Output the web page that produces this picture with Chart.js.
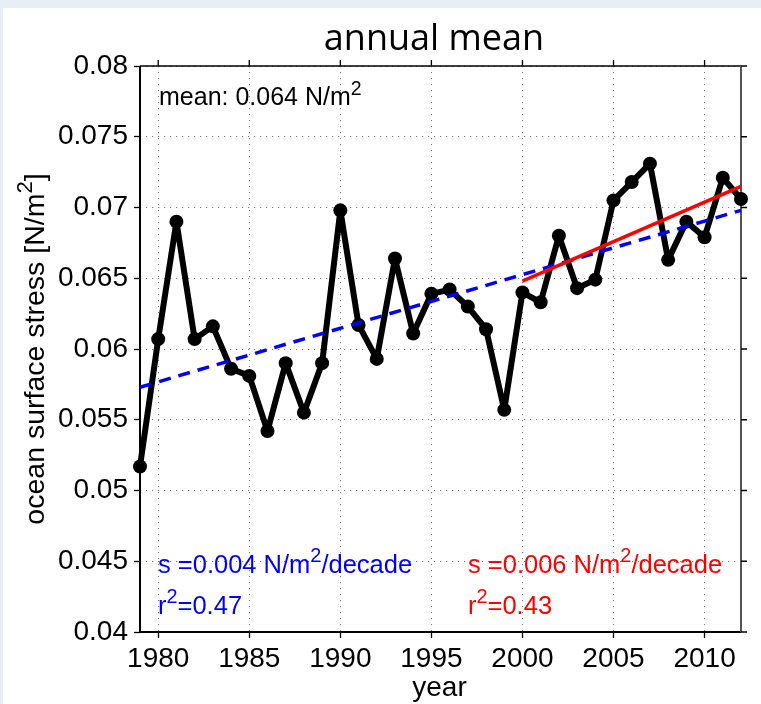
<!DOCTYPE html>
<html>
<head>
<meta charset="utf-8">
<script src="https://cdn.jsdelivr.net/npm/chart.js@4/dist/chart.umd.min.js"></script>
<style>
  html, body { margin: 0; padding: 0; background: #e8eef6; }
  canvas { display: block; }
</style>
</head>
<body>
<canvas id="chart" width="761" height="704"></canvas>
<script>
// Annual mean ocean surface stress, 1979-2012
const years = [1979, 1980, 1981, 1982, 1983, 1984, 1985, 1986, 1987, 1988, 1989,
               1990, 1991, 1992, 1993, 1994, 1995, 1996, 1997, 1998, 1999,
               2000, 2001, 2002, 2003, 2004, 2005, 2006, 2007, 2008, 2009,
               2010, 2011, 2012];
const stress = [0.0517, 0.0607, 0.0690, 0.0607, 0.0616, 0.0586, 0.0581, 0.0542, 0.0590, 0.0555, 0.0590,
                0.0698, 0.0617, 0.0593, 0.0664, 0.0611, 0.0639, 0.0642, 0.0630, 0.0614, 0.0557,
                0.0640, 0.0633, 0.0680, 0.0643, 0.0649, 0.0705, 0.0718, 0.0731, 0.0663, 0.0690,
                0.0679, 0.0721, 0.0706];

// Linear trends: whole record and 2000 onwards
const trendAllYears = [1979, 2012];
const trendAllValues = [0.0573, 0.0698];
const trendRecentYears = [2000, 2012];
const trendRecentValues = [0.0648, 0.0715];

const xTicks = [1980, 1985, 1990, 1995, 2000, 2005, 2010];
const yTicks = [0.04, 0.045, 0.05, 0.055, 0.06, 0.065, 0.07, 0.075, 0.08];
const yTickLabels = ['0.04', '0.045', '0.05', '0.055', '0.06', '0.065', '0.07', '0.075', '0.08'];

const toPoints = (xs, ys) => xs.map((x, i) => ({ x: x, y: ys[i] }));

const SANS = '"Liberation Sans", Arial, Helvetica, sans-serif';

// Draws a run of text pieces; pieces flagged as superscript are smaller and raised.
function richWidth(ctx, parts, size) {
  let w = 0;
  for (const [s, sup] of parts) {
    ctx.font = (sup ? size * 0.78 : size) + 'px ' + SANS;
    w += ctx.measureText(s).width;
  }
  return w;
}
function richText(ctx, x, y, parts, size, color) {
  ctx.fillStyle = color;
  ctx.textAlign = 'left';
  ctx.textBaseline = 'alphabetic';
  let cx = x;
  for (const [s, sup] of parts) {
    ctx.font = (sup ? size * 0.78 : size) + 'px ' + SANS;
    ctx.fillText(s, cx, sup ? y - size * 0.42 : y);
    cx += ctx.measureText(s).width;
  }
}

const decorations = {
  id: 'decorations',
  beforeDraw(chart) {
    const { ctx, width, height } = chart;
    ctx.save();
    ctx.fillStyle = '#e8eef6';
    ctx.fillRect(0, 0, width, height);
    ctx.fillStyle = '#ffffff';
    ctx.fillRect(3, 8, width - 3, height - 8);
    ctx.restore();
  },
  beforeDatasetsDraw(chart) {
    const { ctx, chartArea: a, scales } = chart;
    ctx.save();
    // box around the axes
    ctx.strokeStyle = '#000';
    ctx.lineWidth = 1.5;
    ctx.beginPath();
    ctx.moveTo(a.left, a.top); ctx.lineTo(a.right, a.top);
    ctx.stroke();
    ctx.lineWidth = 2;
    ctx.beginPath();
    ctx.moveTo(a.left, a.top); ctx.lineTo(a.left, a.bottom); ctx.lineTo(a.right, a.bottom);
    ctx.stroke();
    ctx.strokeStyle = '#555';
    ctx.beginPath();
    ctx.moveTo(a.right, a.top); ctx.lineTo(a.right, a.bottom);
    ctx.stroke();
    // outward ticks on the top and right sides
    ctx.lineWidth = 1.3;
    ctx.strokeStyle = '#000';
    ctx.beginPath();
    for (const t of xTicks) {
      const px = scales.x.getPixelForValue(t);
      ctx.moveTo(px, a.top); ctx.lineTo(px, a.top - 6);
    }
    for (const t of yTicks) {
      const py = scales.y.getPixelForValue(t);
      ctx.moveTo(a.right, py); ctx.lineTo(a.right + 6, py);
    }
    ctx.stroke();
    ctx.restore();
  },
  afterDraw(chart) {
    const { ctx, chartArea: a } = chart;
    ctx.save();
    // title
    ctx.fillStyle = '#000';
    ctx.font = '36px "Open Sans", sans-serif';
    ctx.textAlign = 'center';
    ctx.textBaseline = 'alphabetic';
    ctx.fillText('annual mean', 434, 50);
    // x axis title
    ctx.font = '28px ' + SANS;
    ctx.fillText('year', (a.left + a.right) / 2 - 1, 696);
    // y axis title, rotated
    const yParts = [['ocean surface stress [N/m', false], ['2', true], [']', false]];
    ctx.save();
    ctx.translate(44, (a.top + a.bottom) / 2);
    ctx.rotate(-Math.PI / 2);
    const yw = richWidth(ctx, yParts, 28.5);
    richText(ctx, -yw / 2, 0, yParts, 28.5, '#000');
    ctx.restore();
    // annotations
    richText(ctx, 159, 105, [['mean: 0.064 N/m', false], ['2', true]], 25, '#000');
    richText(ctx, 158, 573, [['s =0.004 N/m', false], ['2', true], ['/decade', false]], 25.5, '#0000ff');
    richText(ctx, 158, 614, [['r', false], ['2', true], ['=0.47', false]], 25.5, '#0000ff');
    richText(ctx, 468, 573, [['s =0.006 N/m', false], ['2', true], ['/decade', false]], 25.5, '#ff0000');
    richText(ctx, 468, 614, [['r', false], ['2', true], ['=0.43', false]], 25.5, '#ff0000');
    ctx.restore();
  }
};

const gridCommon = {
  color: '#7a7a7a',
  lineWidth: 1,
  drawTicks: true,
  tickLength: 6,
  tickColor: '#000',
  tickWidth: 1.3
};

new Chart(document.getElementById('chart'), {
  type: 'line',
  data: {
    datasets: [
      {
        label: 'trend 2000-2012',
        data: toPoints(trendRecentYears, trendRecentValues),
        borderColor: '#ff0000',
        borderWidth: 3.5,
        pointRadius: 0,
        order: 0
      },
      {
        label: 'trend 1979-2012',
        data: toPoints(trendAllYears, trendAllValues),
        borderColor: '#0000ff',
        borderWidth: 3.5,
        borderDash: [12, 8],
        pointRadius: 0,
        order: 1
      },
      {
        label: 'annual mean',
        data: toPoints(years, stress),
        borderColor: '#000',
        borderWidth: 6,
        borderJoinStyle: 'round',
        borderCapStyle: 'round',
        pointRadius: 7,
        pointBackgroundColor: '#000',
        pointBorderColor: '#000',
        pointBorderWidth: 0,
        order: 2
      }
    ]
  },
  options: {
    responsive: false,
    animation: false,
    devicePixelRatio: 1,
    layout: { padding: { top: 66, right: 20, left: 0, bottom: 0 } },
    datasets: { line: { clip: false, tension: 0 } },
    plugins: {
      legend: { display: false },
      tooltip: { enabled: false },
      title: { display: false }
    },
    scales: {
      x: {
        type: 'linear',
        min: 1979,
        max: 2012,
        afterBuildTicks: (s) => { s.ticks = xTicks.map(v => ({ value: v })); },
        afterFit: (s) => { s.height = 72; },
        grid: gridCommon,
        border: { display: false, dash: [1.2, 4.8] },
        ticks: {
          color: '#000',
          font: { family: SANS, size: 28 },
          padding: 4,
          maxRotation: 0,
          autoSkip: false,
          callback: (v) => String(v)
        }
      },
      y: {
        type: 'linear',
        min: 0.04,
        max: 0.08,
        afterBuildTicks: (s) => { s.ticks = yTicks.map(v => ({ value: v })); },
        afterFit: (s) => { s.width = 140; },
        grid: gridCommon,
        border: { display: false, dash: [1.2, 4.8] },
        ticks: {
          color: '#000',
          font: { family: SANS, size: 28 },
          padding: 6,
          autoSkip: false,
          callback: (v, i) => yTickLabels[i]
        }
      }
    }
  },
  plugins: [decorations]
});
</script>
</body>
</html>
